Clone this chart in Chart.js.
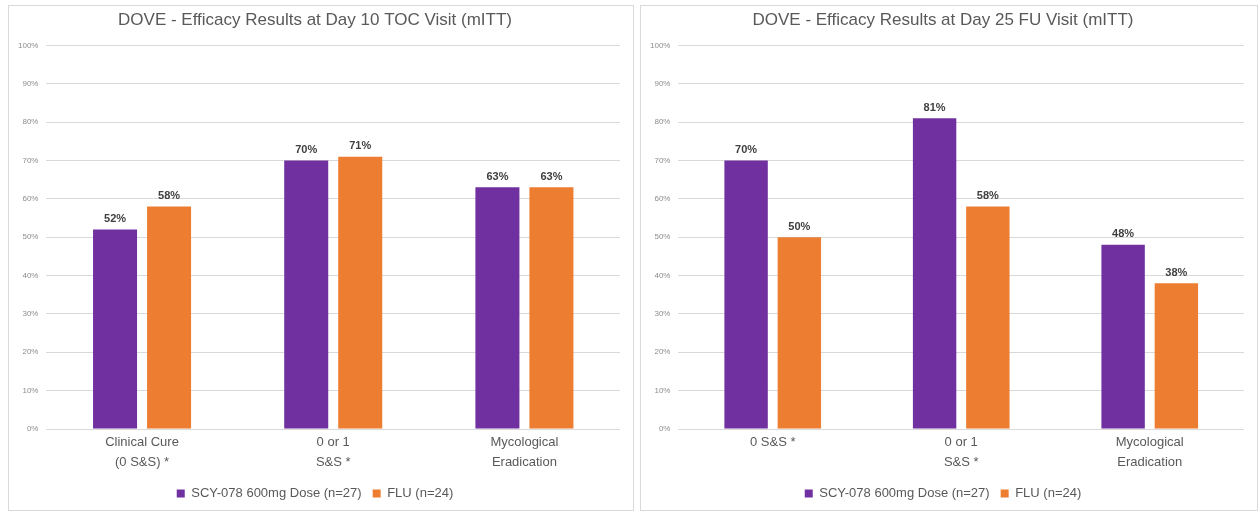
<!DOCTYPE html>
<html lang="en">
<head>
    <meta charset="UTF-8">
    <title>DOVE Efficacy Results</title>
    <script src="https://cdn.jsdelivr.net/npm/chart.js"></script>
    <style>
        body {
            margin: 0;
            background: #ffffff;
            font-family: "Liberation Sans", Arial, sans-serif;
        }
        .panel {
            position: absolute;
            top: 5px;
            height: 504px;
            border: 1px solid #d9d9d9;
            background: #fff;
        }
        #panelLeft { left: 8px; width: 624px; }
        #panelRight { left: 640px; width: 616px; }
    </style>
</head>
<body>
    <div class="panel" id="panelLeft"><canvas id="chartLeft" width="624" height="504"></canvas></div>
    <div class="panel" id="panelRight"><canvas id="chartRight" width="616" height="504"></canvas></div>

    <script>
        // Data
        const seriesNames = ['SCY-078 600mg Dose (n=27)', 'FLU (n=24)'];
        const seriesColors = ['#7030A0', '#ED7D31'];

        const titleLeft = 'DOVE - Efficacy Results at Day 10 TOC Visit (mITT)';
        const categoriesLeft = [['Clinical Cure', '(0 S&S) *'], ['0 or 1', 'S&S *'], ['Mycological', 'Eradication']];
        const scyLeft = [52, 70, 63];
        const fluLeft = [58, 71, 63];

        const titleRight = 'DOVE - Efficacy Results at Day 25 FU Visit (mITT)';
        const categoriesRight = [['0 S&S *'], ['0 or 1', 'S&S *'], ['Mycological', 'Eradication']];
        const scyRight = [70, 81, 48];
        const fluRight = [50, 58, 38];

        const yTicks = [0, 10, 20, 30, 40, 50, 60, 70, 80, 90, 100];

        // Value labels above bars
        const barLabels = {
            id: 'barLabels',
            afterDatasetsDraw(chart) {
                const ctx = chart.ctx;
                ctx.save();
                ctx.font = 'bold 11px "Liberation Sans", Arial, sans-serif';
                ctx.fillStyle = '#404040';
                ctx.textAlign = 'center';
                ctx.textBaseline = 'bottom';
                chart.data.datasets.forEach((ds, i) => {
                    chart.getDatasetMeta(i).data.forEach((bar, j) => {
                        ctx.fillText(ds.data[j] + '%', bar.x, bar.y - 5);
                    });
                });
                ctx.restore();
            }
        };

        function makeChart(id, title, labels, scy, flu) {
            return new Chart(document.getElementById(id), {
                type: 'bar',
                data: {
                    labels: labels,
                    datasets: [
                        { label: seriesNames[0], data: scy, backgroundColor: seriesColors[0] },
                        { label: seriesNames[1], data: flu, backgroundColor: seriesColors[1] }
                    ]
                },
                options: {
                    responsive: false,
                    animation: false,
                    categoryPercentage: 0.565,
                    barPercentage: 0.815,
                    layout: { padding: { left: 1, right: 13, top: 2, bottom: 0 } },
                    plugins: {
                        title: {
                            display: true,
                            text: title,
                            color: '#595959',
                            font: { size: 17, weight: 'normal', family: '"Liberation Sans", Arial, sans-serif' },
                            padding: { top: 2, bottom: 15 }
                        },
                        legend: {
                            position: 'bottom',
                            labels: {
                                color: '#595959',
                                boxWidth: 8,
                                boxHeight: 8,
                                padding: 11,
                                font: { size: 13, family: '"Liberation Sans", Arial, sans-serif' }
                            }
                        },
                        tooltip: { enabled: false }
                    },
                    scales: {
                        x: {
                            grid: { display: false, drawTicks: false },
                            border: { display: false },
                            ticks: {
                                color: '#595959',
                                font: { size: 13, family: '"Liberation Sans", Arial, sans-serif', lineHeight: 1.5 },
                                padding: 4
                            }
                        },
                        y: {
                            min: 0,
                            max: 100,
                            afterBuildTicks: axis => { axis.ticks = yTicks.map(v => ({ value: v })); },
                            grid: { color: '#d9d9d9', drawTicks: false },
                            border: { display: false },
                            ticks: {
                                color: '#8c8c8c',
                                padding: 8,
                                font: { size: 8, family: '"Liberation Sans", Arial, sans-serif' },
                                callback: v => v + '%'
                            }
                        }
                    }
                },
                plugins: [barLabels]
            });
        }

        makeChart('chartLeft', titleLeft, categoriesLeft, scyLeft, fluLeft);
        makeChart('chartRight', titleRight, categoriesRight, scyRight, fluRight);
    </script>
</body>
</html>
